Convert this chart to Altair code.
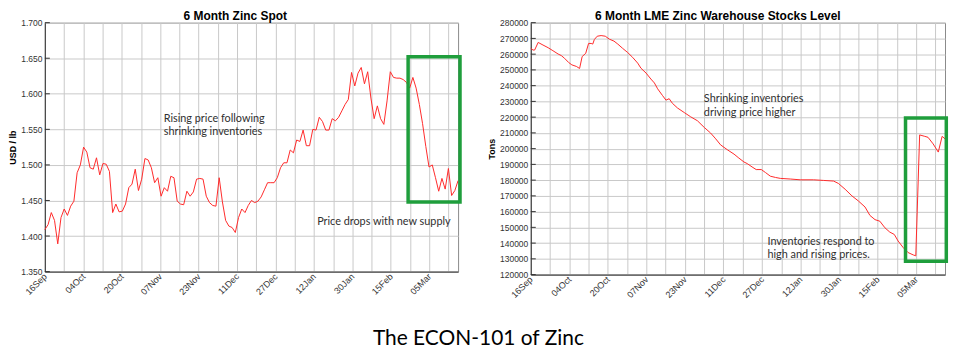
import altair as alt
import pandas as pd

# ---------------- data ----------------
tick_labels = ["16Sep", "04Oct", "20Oct", "07Nov", "23Nov", "11Dec",
               "27Dec", "12Jan", "30Jan", "15Feb", "05Mar"]

# 6 month zinc spot price, USD/lb (one value per trading day)
zinc_spot = [
    1.409, 1.416, 1.433, 1.422, 1.389, 1.426, 1.438, 1.429, 1.442, 1.449,
    1.489, 1.500, 1.525, 1.518, 1.496, 1.494, 1.510, 1.486, 1.502, 1.501,
    1.491, 1.433, 1.445, 1.434, 1.435, 1.445, 1.468, 1.473, 1.494, 1.464,
    1.480, 1.509, 1.507, 1.496, 1.475, 1.482, 1.456, 1.468, 1.463, 1.484,
    1.482, 1.449, 1.445, 1.444, 1.463, 1.456, 1.462, 1.480, 1.481, 1.480,
    1.456, 1.447, 1.443, 1.442, 1.482, 1.448, 1.422, 1.414, 1.412, 1.405,
    1.426, 1.438, 1.433, 1.443, 1.450, 1.447, 1.449, 1.455, 1.465, 1.475,
    1.475, 1.475, 1.482, 1.496, 1.503, 1.503, 1.521, 1.517, 1.535, 1.533,
    1.549, 1.527, 1.527, 1.550, 1.549, 1.567, 1.561, 1.549, 1.549, 1.565,
    1.562, 1.567, 1.576, 1.585, 1.592, 1.630, 1.611, 1.629, 1.637, 1.614,
    1.631, 1.594, 1.565, 1.583, 1.565, 1.557, 1.590, 1.631, 1.623, 1.622,
    1.622, 1.620, 1.616, 1.608, 1.623, 1.608, 1.585, 1.558, 1.526, 1.497,
    1.500, 1.482, 1.463, 1.481, 1.466, 1.495, 1.457, 1.464, 1.478,
]

# LME zinc warehouse stocks (trading-day position, tons)
stock_days = [
    0, 0.7, 1.2, 2.3, 3.8, 5.4, 6.9, 8.5, 9.5, 10.5, 11.8, 12.8, 14.2, 15.2,
    16.0, 17.1, 18.0, 18.8, 19.3, 19.8, 20.7, 21.9, 23.2, 24.5, 25.9, 27.1,
    28.6, 30.2, 31.7, 33.3, 34.3, 35.9, 37.4, 38.5, 39.5, 41.0, 42.1, 43.1,
    44.1, 45.7, 47.8, 49.8, 51.9, 54.0, 56.0, 57.6, 59.1, 61.2, 63.3, 64.8,
    66.4, 67.4, 68.9, 70.2, 71.8, 73.1, 74.6, 76.2, 77.7, 80.8, 83.9, 88.1,
    91.2, 94.3, 95.8, 97.9, 100.0, 102.0, 104.1, 105.6, 107.2, 108.7, 110.3,
    111.8, 113.2, 114.4, 116.0, 117.5, 119.1, 119.9, 121.1, 122.7, 123.7,
    125.3, 126.9, 128.1, 129.0,
]
stock_tons = [
    263700, 262600, 262600, 267450, 265800, 264100, 262200, 260100, 259100,
    257400, 254700, 253200, 252200, 250900, 258500, 260500, 266800, 266800,
    266400, 269300, 271400, 271800, 271400, 269500, 268300, 266400, 263700,
    261000, 258000, 254300, 251100, 248000, 244200, 241700, 238000, 233800,
    230800, 231700, 228800, 225800, 222900, 220200, 217700, 213500, 209900,
    206200, 202400, 199300, 196500, 194000, 191500, 190500, 188400, 186700,
    186700, 184800, 182500, 181700, 181100, 180700, 180200, 180200, 179800,
    179400, 177900, 174200, 170000, 166800, 162900, 157600, 154900, 153900,
    149700, 147000, 145500, 141300, 137100, 134000, 132500, 131900, 208700,
    207800, 207200, 203000, 197800, 207800, 206200,
]

spot_ticks = [1.35, 1.40, 1.45, 1.50, 1.55, 1.60, 1.65, 1.70]
stock_ticks = [120000, 130000, 140000, 150000, 160000, 170000, 180000, 190000,
               200000, 210000, 220000, 230000, 240000, 250000, 260000, 270000, 280000]

spot_notes = ["Rising price following\nshrinking inventories", "Price drops with new supply"]
spot_note_x = [37.1, 85.0]
spot_note_y = [1.565, 1.420]
stock_notes = ["Shrinking inventories\ndriving price higher", "Inventories respond to\nhigh and rising prices."]
stock_note_x = [53.9, 73.7]
stock_note_y = [231400, 141000]

spot_box = {"x": [113.4], "x2": [129.6], "y": [1.448], "y2": [1.652]}
stock_box = {"x": [116.7], "x2": [129.4], "y": [128500], "y2": [219460]}

# ---------------- helpers ----------------
N_DAYS = 129
grid_vals = list(range(0, N_DAYS + 1, 6))
lab_arr = [tick_labels[k // 2] if k % 2 == 0 else "" for k in range(len(grid_vals))]
label_expr = "[" + ",".join("'%s'" % s for s in lab_arr) + "][round(datum.value/6)]"

AX_FONT = "Liberation Sans"
GRID = "#c9c9c9"
DARK = "#333333"
RED = "#ff2a2a"
GREEN = "#1f9e3c"

x_scale = alt.Scale(domain=[0, N_DAYS], nice=False, zero=False)
x_axis = alt.Axis(values=grid_vals, labelExpr=label_expr, ticks=False, grid=True,
                  gridColor=GRID, labelAngle=315, labelAlign="right",
                  labelBaseline="middle", labelFont=AX_FONT, labelFontSize=9,
                  labelColor=DARK, labelPadding=3, labelOverlap=False,
                  domainColor=DARK, title=None)


def y_axis(vals, fmt, title):
    return alt.Axis(values=vals, format=fmt, title=title, titleFont=AX_FONT,
                    titleFontSize=9, titleFontWeight="bold", titleColor="#000",
                    titlePadding=3, labelFont=AX_FONT, labelFontSize=8.5,
                    labelColor=DARK, ticks=False, labelPadding=3, grid=True,
                    gridColor=GRID, domainColor=DARK, labelOverlap=False)


def panel(df_line, yfield, ydomain, yvals, fmt, ytitle, notes_df, box_df,
          ticks_df, title, w, h):
    ysc = alt.Scale(domain=ydomain, nice=False, zero=False)
    yax = y_axis(yvals, fmt, ytitle)
    line = alt.Chart(df_line).mark_line(color=RED, strokeWidth=1).encode(
        x=alt.X("day:Q", scale=x_scale, axis=x_axis),
        y=alt.Y(yfield + ":Q", scale=ysc, axis=yax),
    )
    ticks = alt.Chart(ticks_df).mark_rule(color=DARK, strokeWidth=1).encode(
        x=alt.value(0), x2=alt.value(5), y=alt.Y("v:Q", scale=ysc, axis=yax)
    )
    notes = alt.Chart(notes_df).mark_text(
        align="left", baseline="middle", font="Lato", fontSize=10.9,
        color="#2f2f2f", lineBreak="\n", lineHeight=13.5
    ).encode(x=alt.X("x:Q", scale=x_scale, axis=x_axis),
             y=alt.Y("y:Q", scale=ysc, axis=yax), text="t:N")
    box = alt.Chart(box_df).mark_rect(
        fillOpacity=0, stroke=GREEN, strokeWidth=3.5, clip=False
    ).encode(
        x=alt.X("x:Q", scale=x_scale, axis=x_axis), x2="x2:Q",
        y=alt.Y("y:Q", scale=ysc, axis=yax), y2="y2:Q",
    )
    return alt.layer(line, ticks, notes, box).properties(
        width=w, height=h,
        title=alt.TitleParams(title, font=AX_FONT, fontSize=12, fontWeight="bold",
                              color="#000", offset=-4, anchor="middle",
                              frame="bounds"),
    )


spot_df = pd.DataFrame({
    "day": [i * N_DAYS / (len(zinc_spot) - 1) for i in range(len(zinc_spot))],
    "price": zinc_spot,
})
stock_df = pd.DataFrame({"day": stock_days, "tons": stock_tons})

left = panel(
    spot_df, "price", [1.35, 1.70], spot_ticks, ".3f", "USD / lb",
    pd.DataFrame({"x": spot_note_x, "y": spot_note_y, "t": spot_notes}),
    pd.DataFrame(spot_box), pd.DataFrame({"v": spot_ticks}),
    "6 Month Zinc Spot", 415, 250,
)
right = panel(
    stock_df, "tons", [120000, 280000], stock_ticks, "d", "Tons",
    pd.DataFrame({"x": stock_note_x, "y": stock_note_y, "t": stock_notes}),
    pd.DataFrame(stock_box), pd.DataFrame({"v": stock_ticks}),
    "6 Month LME Zinc Warehouse Stocks Level", 416, 253,
)

chart = alt.hconcat(left, right, spacing=24).properties(
    padding=0,
    title=alt.TitleParams("The ECON-101 of Zinc", orient="bottom", font="Lato",
                          fontSize=21, fontWeight="normal", color="#000",
                          offset=28, anchor="middle"),
).configure_view(stroke="#8a8a8a", strokeWidth=1)

chart.save("out.html", embed_options={"renderer": "svg", "actions": False})
